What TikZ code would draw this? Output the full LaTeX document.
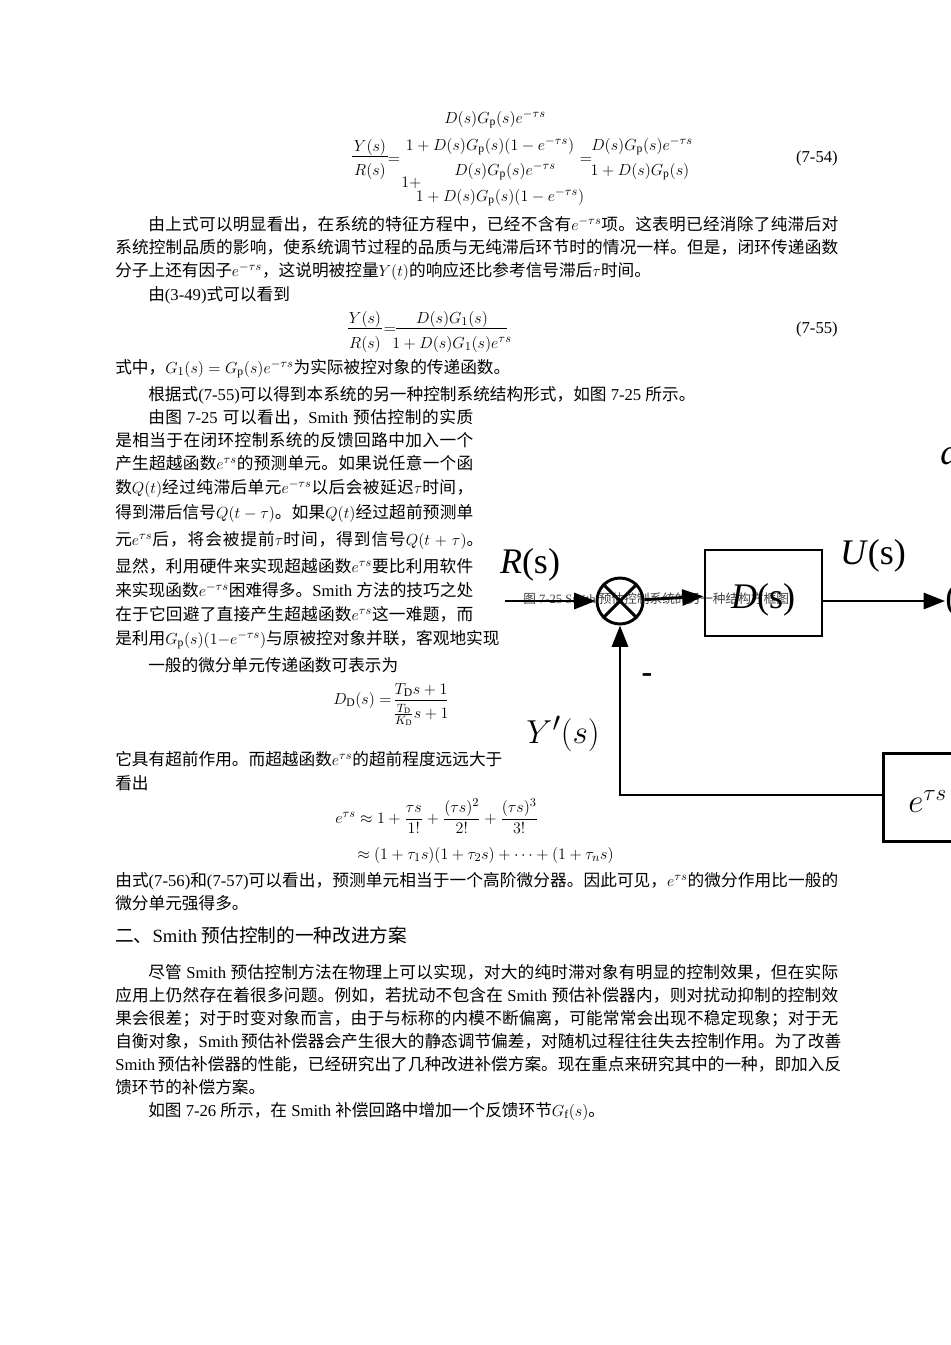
\documentclass[tikz,border=0pt]{standalone}
\usepackage{amsmath}
\usepackage{fontspec}
\usetikzlibrary{arrows.meta}
\setmainfont{Liberation Serif}
\newfontfamily\cjk{Noto Sans CJK SC}
\XeTeXinterchartokenstate=1
\newXeTeXintercharclass\cjkcls
\count255="4E00 \loop \XeTeXcharclass\count255=\cjkcls \advance\count255 1 \ifnum\count255<"A000 \repeat
\count255="3000 \loop \XeTeXcharclass\count255=\cjkcls \advance\count255 1 \ifnum\count255<"3040 \repeat
\count255="FF00 \loop \XeTeXcharclass\count255=\cjkcls \advance\count255 1 \ifnum\count255<"FFF0 \repeat
\XeTeXinterchartoks 0 \cjkcls = {\cjk}
\XeTeXinterchartoks 4095 \cjkcls = {\cjk}
\XeTeXinterchartoks \cjkcls 0 = {\rmfamily}
\XeTeXinterchartoks \cjkcls 4095 = {\rmfamily}
\XeTeXinterchartoks \cjkcls \cjkcls = {\hskip 0pt plus 1pt\relax}
\newcommand\tl[3]{\node[anchor=base west] at (#1,#2) {#3};}
\newcommand\jl[4]{\node[anchor=base west] at (#1,#2) {\makebox[\dimexpr #3pt*3/4\relax][s]{#4}};}
\newcommand\cl[3]{\node[anchor=base] at (#1,#2) {#3};}
\tikzset{every node/.style={inner sep=0pt,font=\fontsize{12.5}{14}\selectfont},
 blk/.style={draw,line width=2.2pt},
 sig/.style={line width=2.2pt,-{Triangle[length=16pt,width=12pt]}},
 big/.style={font=\fontsize{27}{30}\selectfont}}
\begin{document}
\begin{tikzpicture}[x=0.75pt,y=-0.75pt]
\useasboundingbox (0,0) rectangle (950,1345);
% eq 7-54
\cl{370}{151}{$Y(s)$}
\draw[line width=0.6pt] (352,156) -- (388,156);
\cl{370}{175}{$R(s)$}
\cl{394}{163}{$=$}
\cl{495}{123}{$D(s)G_{\mathrm p}(s)e^{-\tau s}$}
\cl{490}{150}{$1+D(s)G_{\mathrm p}(s)(1-e^{-\tau s})$}
\cl{505}{175}{$D(s)G_{\mathrm p}(s)e^{-\tau s}$}
\tl{401}{187}{$1+$}
\cl{500}{201}{$1+D(s)G_{\mathrm p}(s)(1-e^{-\tau s})$}
\cl{586}{163}{$=$}
\cl{642}{150}{$D(s)G_{\mathrm p}(s)e^{-\tau s}$}
\cl{640}{175}{$1+D(s)G_{\mathrm p}(s)$}
\node[anchor=base east] at (838,162) {(7-54)};
% paragraph
\jl{148}{230}{690}{由上式可以明显看出，在系统的特征方程中，已经不含有$e^{-\tau s}$项。这表明已经消除了纯滞后对}
\jl{115}{253}{723}{系统控制品质的影响，使系统调节过程的品质与无纯滞后环节时的情况一样。但是，闭环传递函数}
\tl{115}{276}{分子上还有因子$e^{-\tau s}$，这说明被控量$Y(t)$的响应还比参考信号滞后$\tau$时间。}
\tl{148}{300}{由(3-49)式可以看到}
% eq 7-55
\cl{365}{323}{$Y(s)$}
\draw[line width=0.6pt] (348,328) -- (382,328);
\cl{365}{348}{$R(s)$}
\cl{390}{333}{$=$}
\cl{452}{323}{$D(s)G_1(s)$}
\draw[line width=0.6pt] (396,328) -- (507,328);
\cl{452}{348}{$1+D(s)G_1(s)e^{\tau s}$}
\node[anchor=base east] at (838,333) {(7-55)};
\tl{115}{373}{式中，$G_1(s)=G_{\mathrm p}(s)e^{-\tau s}$为实际被控对象的传递函数。}
\tl{148}{400}{根据式(7-55)可以得到本系统的另一种控制系统结构形式，如图 7-25 所示。}
% left column
\jl{148}{423}{325}{由图 7-25 可以看出，Smith 预估控制的实质}
\jl{115}{446}{358}{是相当于在闭环控制系统的反馈回路中加入一个}
\jl{115}{469}{358}{产生超越函数$e^{\tau s}$的预测单元。如果说任意一个函}
\jl{115}{493}{358}{数$Q(t)$经过纯滞后单元$e^{-\tau s}$以后会被延迟$\tau$时间，}
\jl{115}{518}{358}{得到滞后信号$Q(t-\tau)$。如果$Q(t)$经过超前预测单}
\jl{115}{545}{368}{元$e^{\tau s}$后，将会被提前$\tau$时间，得到信号$Q(t+\tau)$。}
\jl{115}{572}{358}{显然，利用硬件来实现超越函数$e^{\tau s}$要比利用软件}
\jl{115}{596}{358}{来实现函数$e^{-\tau s}$困难得多。Smith 方法的技巧之处}
\jl{115}{620}{358}{在于它回避了直接产生超越函数$e^{\tau s}$这一难题，而}
\jl{115}{644}{383}{是利用$G_{\mathrm p}(s)(1-e^{-\tau s})$与原被控对象并联，客观地实现}
\tl{148}{671}{一般的微分单元传递函数可表示为}
\tl{333}{704}{$D_{\mathrm D}(s)=$}
\cl{421}{694}{$T_{\mathrm D}s+1$}
\draw[line width=0.6pt] (395,700) -- (447,700);
\node[anchor=north] at (421,704) {$\frac{T_{\mathrm D}}{K_{\mathrm D}}s+1$};
\jl{115}{765}{385}{它具有超前作用。而超越函数$e^{\tau s}$的超前程度远远大于}
\tl{115}{789}{看出}
\tl{335}{823}{$e^{\tau s}\approx 1+\dfrac{\tau s}{1!}+\dfrac{(\tau s)^2}{2!}+\dfrac{(\tau s)^3}{3!}$}
\tl{357}{859}{$\approx(1+\tau_1 s)(1+\tau_2 s)+\cdots+(1+\tau_n s)$}
\jl{115}{886}{723}{由式(7-56)和(7-57)可以看出，预测单元相当于一个高阶微分器。因此可见，$e^{\tau s}$的微分作用比一般的}
\tl{115}{909}{微分单元强得多。}
\node[anchor=base west,font=\fontsize{14}{16}\selectfont] at (115,942) {二、Smith 预估控制的一种改进方案};
\jl{148}{978}{690}{尽管 Smith 预估控制方法在物理上可以实现，对大的纯时滞对象有明显的控制效果，但在实际}
\jl{115}{1001}{723}{应用上仍然存在着很多问题。例如，若扰动不包含在 Smith 预估补偿器内，则对扰动抑制的控制效}
\jl{115}{1024}{723}{果会很差；对于时变对象而言，由于与标称的内模不断偏离，可能常常会出现不稳定现象；对于无}
\jl{115}{1047}{723}{自衡对象，Smith 预估补偿器会产生很大的静态调节偏差，对随机过程往往失去控制作用。为了改善}
\jl{115}{1070}{723}{Smith 预估补偿器的性能，已经研究出了几种改进补偿方案。现在重点来研究其中的一种，即加入反}
\tl{115}{1093}{馈环节的补偿方案。}
\tl{148}{1116}{如图 7-26 所示，在 Smith 补偿回路中增加一个反馈环节$G_{\mathrm f}(s)$。}
% caption
\node[anchor=base west,font=\fontsize{9.5}{11}\selectfont,text=black!75] at (523,603) {图 7-25 Smith 预估控制系统的另一种结构方框图};
% diagram
\node[draw,circle,line width=2.2pt,minimum size=34.5pt] (sum) at (620,601) {};
\draw[line width=2.2pt] (sum.north west) -- (sum.south east) (sum.north east) -- (sum.south west);
\node[blk,minimum width=87.75pt,minimum height=64.5pt] (D) at (763.5,593) {};
\node[big] at (763,600) {\textit{D}(s)};
\node[blk,anchor=north west,minimum width=75pt,minimum height=66pt] (E) at (882,752) {};
\node[big,anchor=west] at (908,802) {$e^{\tau s}$};
\coordinate (rin) at (505,601);
\coordinate (uout) at (945,601);
\coordinate (fb) at (620,795);
\draw[sig] (rin) -- (sum);
\draw[sig] (sum) -- (D);
\draw[sig] (D.east |- uout) -- (uout);
\draw[sig] (E.west |- fb) -- (fb) -- (sum);
\node[big] at (530,565) {\textit{R}(s)};
\node[big] at (873,556) {\textit{U}(s)};
\node[big,font=\fontsize{30}{32}\selectfont] at (563,734) {$Y'(s)$};
\node[font=\fontsize{24}{26}\bfseries] at (647,678) {-};
\node[big,anchor=west] at (945,601) {(};
\node[big,anchor=west] at (940,452) {\textit{d}};
\end{tikzpicture}
\end{document}
